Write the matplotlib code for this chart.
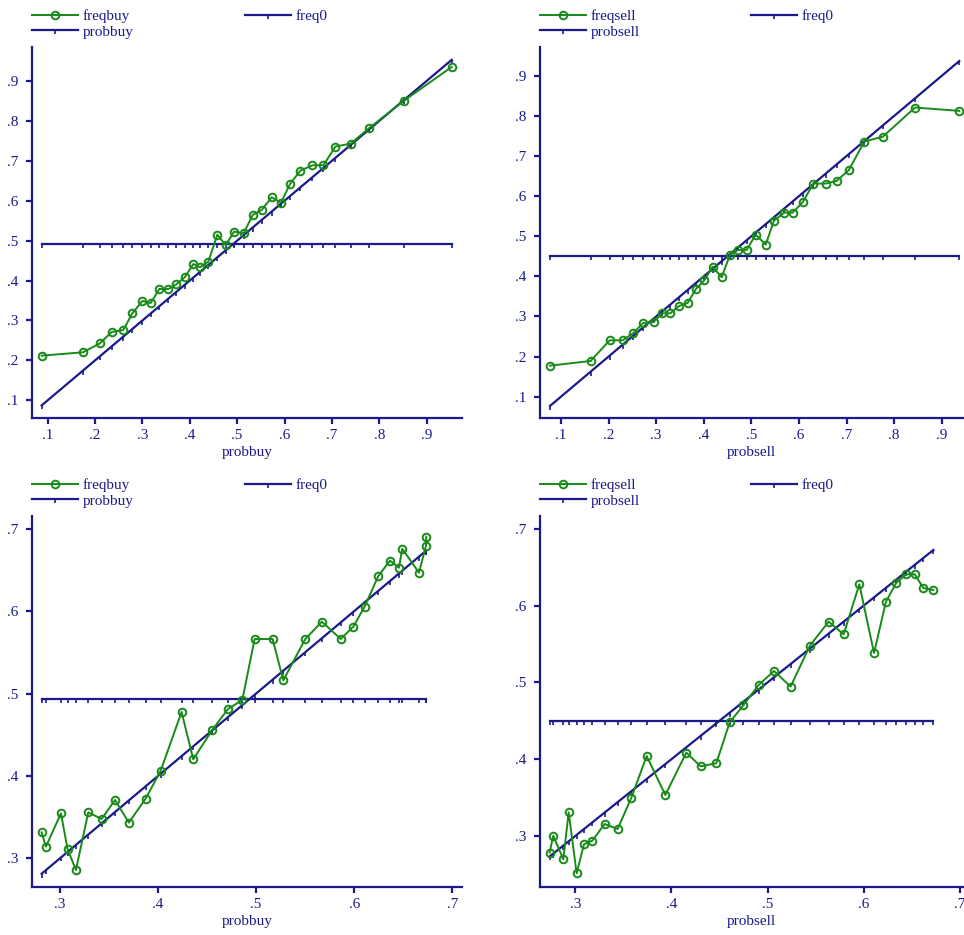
import matplotlib
matplotlib.use("Agg")
import matplotlib.pyplot as plt
import numpy as np

# ---- data: predicted probability bins vs. observed frequencies ----
# buy side, full range
probbuy_a = [0.0873, 0.1746, 0.2105, 0.2351, 0.2597, 0.2787, 0.2999, 0.3175,
             0.3357, 0.3548, 0.3716, 0.3892, 0.4075, 0.4216, 0.4392, 0.4582,
             0.4758, 0.4934, 0.5138, 0.5328, 0.5518, 0.5729, 0.5926, 0.6116,
             0.6334, 0.6588, 0.6820, 0.7073, 0.7397, 0.7791, 0.8523, 0.9529]
freqbuy_a = [0.2119, 0.2203, 0.2428, 0.2712, 0.2762, 0.3180, 0.3489, 0.3438,
             0.3789, 0.3789, 0.3906, 0.4081, 0.4415, 0.4332, 0.4474, 0.5150,
             0.4883, 0.5226, 0.5184, 0.5643, 0.5768, 0.6086, 0.5952, 0.6420,
             0.6754, 0.6887, 0.6887, 0.7355, 0.7430, 0.7823, 0.8507, 0.9351]
freq0_buy_a = 0.491

# sell side, full range
probsell_a = [0.0769, 0.1623, 0.2023, 0.2296, 0.2513, 0.2730, 0.2947, 0.3123,
              0.3298, 0.3480, 0.3662, 0.3837, 0.4012, 0.4187, 0.4377, 0.4552,
              0.4720, 0.4902, 0.5091, 0.5301, 0.5476, 0.5693, 0.5869, 0.6079,
              0.6303, 0.6562, 0.6793, 0.7046, 0.7375, 0.7767, 0.8440, 0.9370]
freqsell_a = [0.1773, 0.1890, 0.2405, 0.2405, 0.2580, 0.2838, 0.2863, 0.3079,
              0.3079, 0.3262, 0.3337, 0.3686, 0.3902, 0.4243, 0.3977, 0.4543,
              0.4659, 0.4659, 0.5042, 0.4792, 0.5391, 0.5590, 0.5590, 0.5848,
              0.6314, 0.6314, 0.6380, 0.6647, 0.7362, 0.7486, 0.8210, 0.8127]
freq0_sell_a = 0.450

# buy side, restricted range
probbuy_b = [0.2813, 0.2857, 0.3010, 0.3078, 0.3163, 0.3289, 0.3425, 0.3561,
             0.3703, 0.3873, 0.4026, 0.4240, 0.4359, 0.4550, 0.4713, 0.4859,
             0.4985, 0.5168, 0.5277, 0.5501, 0.5671, 0.5862, 0.5991, 0.6106,
             0.6246, 0.6365, 0.6456, 0.6490, 0.6660, 0.6732, 0.6735]
freqbuy_b = [0.3315, 0.3142, 0.3546, 0.3109, 0.2858, 0.3558, 0.3477, 0.3708,
             0.3433, 0.3724, 0.4060, 0.4776, 0.4201, 0.4553, 0.4812, 0.4921,
             0.5661, 0.5661, 0.5160, 0.5661, 0.5872, 0.5661, 0.5811, 0.6054,
             0.6426, 0.6612, 0.6527, 0.6757, 0.6466, 0.6794, 0.6903]
freq0_buy_b = 0.493

# sell side, restricted range
probsell_b = [0.2733, 0.2771, 0.2875, 0.2931, 0.3014, 0.3090, 0.3177, 0.3305,
              0.3440, 0.3582, 0.3742, 0.3936, 0.4154, 0.4303, 0.4466, 0.4605,
              0.4747, 0.4906, 0.5066, 0.5239, 0.5437, 0.5634, 0.5790, 0.5953,
              0.6106, 0.6230, 0.6338, 0.6442, 0.6529, 0.6619, 0.6723]
freqsell_b = [0.2783, 0.3004, 0.2696, 0.3308, 0.2514, 0.2892, 0.2939, 0.3156,
              0.3091, 0.3495, 0.4041, 0.3534, 0.4085, 0.3907, 0.3946, 0.4479,
              0.4701, 0.4965, 0.5148, 0.4944, 0.5473, 0.5790, 0.5625, 0.6276,
              0.5382, 0.6050, 0.6297, 0.6406, 0.6406, 0.6228, 0.6202]
freq0_sell_b = 0.450

ticks_full = [0.1, 0.2, 0.3, 0.4, 0.5, 0.6, 0.7, 0.8, 0.9]
ticks_mid = [0.3, 0.4, 0.5, 0.6, 0.7]
tick_labels_full = [".1", ".2", ".3", ".4", ".5", ".6", ".7", ".8", ".9"]
tick_labels_mid = [".3", ".4", ".5", ".6", ".7"]

NAVY = "#1a1a8a"
GREEN = "#178a17"

plt.rcParams["font.family"] = ["Liberation Serif", "DejaVu Serif"]
plt.rcParams["font.size"] = 11

fig = plt.figure(figsize=(9.64, 9.35), dpi=100)
W, H = 964.0, 935.0


def add_axes_px(left, top, right, bottom):
    return fig.add_axes([left / W, 1 - bottom / H, (right - left) / W, (bottom - top) / H])


panels = [
    dict(box=(32, 47, 462, 418), x=probbuy_a, y=freqbuy_a, f0=freq0_buy_a,
         yname="freqbuy", xname="probbuy", xlim=(0.0669, 0.9746), ylim=(0.0557, 0.985),
         xt=ticks_full, xtl=tick_labels_full, yt=ticks_full, ytl=tick_labels_full),
    dict(box=(540, 47, 963, 418), x=probsell_a, y=freqsell_a, f0=freq0_sell_a,
         yname="freqsell", xname="probsell", xlim=(0.0559, 0.9448), ylim=(0.0468, 0.972),
         xt=ticks_full, xtl=tick_labels_full, yt=ticks_full, ytl=tick_labels_full),
    dict(box=(32, 516, 462, 887), x=probbuy_b, y=freqbuy_b, f0=freq0_buy_b,
         yname="freqbuy", xname="probbuy", xlim=(0.2715, 0.7099), ylim=(0.2652, 0.7154),
         xt=ticks_mid, xtl=tick_labels_mid, yt=ticks_mid, ytl=tick_labels_mid),
    dict(box=(540, 516, 963, 887), x=probsell_b, y=freqsell_b, f0=freq0_sell_b,
         yname="freqsell", xname="probsell", xlim=(0.2633, 0.7031), ylim=(0.2336, 0.7165),
         xt=ticks_mid, xtl=tick_labels_mid, yt=ticks_mid, ytl=tick_labels_mid),
]

for p in panels:
    ax = add_axes_px(*p["box"])
    x = np.asarray(p["x"])
    y = np.asarray(p["y"])
    f0 = np.full_like(x, p["f0"])

    h1, = ax.plot(x, y, color=GREEN, lw=1.4, marker="o", markersize=5.5,
                  markerfacecolor="none", markeredgecolor=GREEN, markeredgewidth=1.4,
                  zorder=3)
    h2, = ax.plot(x, f0, color=NAVY, lw=1.6, marker=3, markersize=3,
                  markeredgewidth=1.2, zorder=2)
    h3, = ax.plot(x, x, color=NAVY, lw=1.6, marker=3, markersize=3,
                  markeredgewidth=1.2, zorder=2)

    ax.set_xlim(*p["xlim"])
    ax.set_ylim(*p["ylim"])
    ax.set_xticks(p["xt"])
    ax.set_xticklabels(p["xtl"])
    ax.set_yticks(p["yt"])
    ax.set_yticklabels(p["ytl"])
    ax.set_xlabel(p["xname"], color=NAVY, labelpad=3)

    for side in ("top", "right"):
        ax.spines[side].set_visible(False)
    for side in ("left", "bottom"):
        ax.spines[side].set_color(NAVY)
        ax.spines[side].set_linewidth(1.6)
    ax.tick_params(axis="both", colors=NAVY, labelcolor=NAVY, width=1.6, length=4,
                   direction="out")
    ax.tick_params(axis="y", pad=6)
    ax.tick_params(axis="x", pad=4)

    leg = ax.legend([h1, h3, h2], [p["yname"], p["xname"], "freq0"], ncol=2,
                    loc="lower left", bbox_to_anchor=(0.0, 1.022), frameon=False,
                    handlelength=3.0, handletextpad=0.3, labelspacing=0.12,
                    columnspacing=7.3, borderpad=0, borderaxespad=0,
                    markerscale=1.0)
    for t in leg.get_texts():
        t.set_color(NAVY)

fig.savefig("out.png", dpi=100, facecolor="white")
